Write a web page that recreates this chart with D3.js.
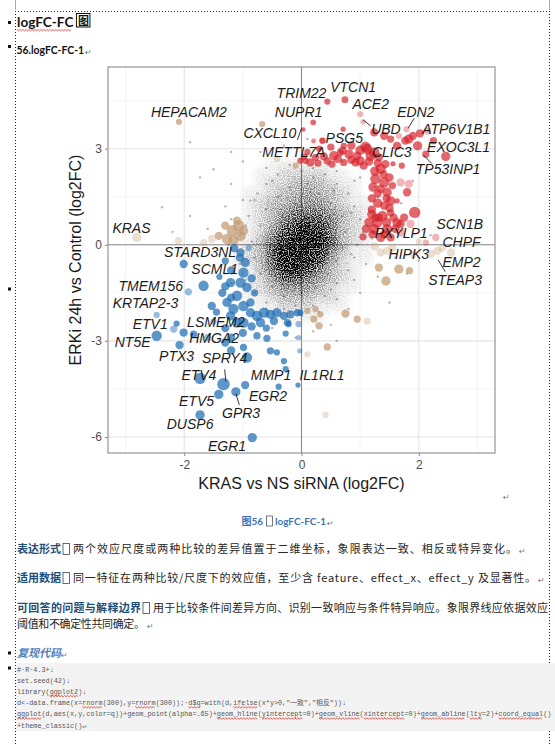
<!DOCTYPE html>
<html>
<head>
<meta charset="utf-8">
<script src="https://cdn.jsdelivr.net/npm/d3@7"></script>
<style>
  body { margin: 0; background: #fff; }
  svg { display: block; }
</style>
</head>
<body>
<svg id="page" width="555" height="745"></svg>
<script>
// ---- chart data ----
var xTicks = [-2, 0, 2];
var yTicks = [-6, -3, 0, 3];
var xMinor = [-3, -1, 1, 3];
var yMinor = [-4.5, -1.5, 1.5, 4.5];

// density of the unlabelled gene cloud, 0..9 per bin
var cloudBinsX = [-1.1, -0.9, -0.7, -0.5, -0.3, -0.1, 0.1, 0.3, 0.5, 0.7, 0.9, 1.1, 1.3];
var cloudBinsY = [2.55, 2.25, 1.95, 1.65, 1.35, 1.05, 0.75, 0.45, 0.15, -0.15, -0.45, -0.75, -1.05, -1.35, -1.65, -1.95, -2.25];
var cloudDensity = [
  [0, 0, 0, 1, 1, 1, 1, 1, 1, 0, 0, 0, 0],
  [0, 0, 1, 1, 2, 2, 2, 2, 1, 1, 0, 0, 0],
  [0, 0, 1, 2, 2, 3, 3, 3, 2, 1, 1, 0, 0],
  [0, 1, 1, 2, 3, 3, 4, 3, 3, 2, 1, 0, 0],
  [0, 1, 2, 3, 3, 4, 4, 4, 3, 2, 1, 1, 0],
  [0, 1, 2, 3, 4, 5, 5, 5, 4, 3, 2, 1, 0],
  [0, 1, 2, 3, 5, 6, 7, 6, 5, 3, 2, 1, 0],
  [1, 1, 2, 4, 6, 8, 9, 8, 5, 3, 2, 1, 0],
  [1, 1, 3, 5, 8, 9, 9, 9, 6, 3, 2, 1, 0],
  [1, 2, 3, 6, 9, 9, 9, 8, 5, 3, 1, 1, 0],
  [1, 2, 3, 6, 9, 9, 9, 7, 4, 2, 1, 1, 0],
  [1, 1, 3, 5, 8, 9, 7, 5, 3, 2, 1, 0, 0],
  [0, 1, 2, 4, 6, 6, 5, 4, 3, 2, 1, 0, 0],
  [0, 1, 2, 3, 4, 4, 4, 3, 2, 1, 1, 0, 0],
  [0, 1, 1, 2, 3, 3, 3, 2, 2, 1, 0, 0, 0],
  [0, 0, 1, 1, 2, 2, 2, 1, 1, 1, 0, 0, 0],
  [0, 0, 0, 1, 1, 1, 1, 1, 0, 0, 0, 0, 0]
];

// scattered unlabelled genes around the cloud [x, y]
var cloudPts = [
  [-0.9,0.9],[-0.8,1.4],[-0.6,1.9],[-0.4,2.2],[-0.2,2.5],[0.0,2.7],[0.2,2.4],[0.4,2.2],[0.6,1.9],[0.8,1.6],
  [0.9,1.2],[1.0,0.8],[1.05,0.4],[0.95,0.0],[0.9,-0.4],[0.8,-0.8],[0.6,-1.2],[0.4,-1.6],[0.2,-1.9],[0.0,-2.2],
  [-0.2,-2.4],[-0.4,-2.1],[-0.6,-1.8],[-0.8,-1.5],[-0.95,-1.1],[-1.05,-0.6],[-1.1,-0.2],[-1.05,0.3],
  [-1.3,1.2],[-1.5,2.36],[-1.73,2.1],[-2.38,1.17],[-0.87,1.38],[-1.9,3.2],[-1.2,1.9],[-1.0,2.6],[-0.7,2.9],
  [-0.3,3.1],[0.3,3.0],[0.7,2.6],[1.0,2.1],[1.3,1.5],[1.45,0.9],[1.5,0.3],[1.6,-0.4],[1.3,-1.0],[1.0,-1.5],
  [0.8,-2.0],[0.5,-2.5],[0.2,-2.7],[-0.1,-2.9],[-0.5,-2.6],[-0.75,-2.3],[-1.3,-0.9],[-1.4,-0.3],[-1.6,0.5],
  [-1.9,0.9],[-2.2,0.4],[1.8,-0.9],[2.0,-0.5],[2.2,0.3],[1.7,1.3],[1.9,2.0],[-0.5,3.4],[0.1,3.3],[-1.2,2.9],
  [2.4,-1.2],[1.5,-1.8],[0.6,-3.0],
  [-0.7,0.6],[-0.6,1.1],[-0.4,1.5],[-0.2,1.8],[0.1,1.9],[0.3,1.6],[0.5,1.3],[0.7,0.9],[0.75,0.4],[0.7,-0.1],
  [0.6,-0.5],[0.45,-0.9],[0.25,-1.3],[0.0,-1.5],[-0.3,-1.6],[-0.5,-1.3],[-0.7,-0.9],[-0.8,-0.4],[-0.85,0.1],
  [-0.5,2.0],[0.2,2.1],[0.55,1.7],[0.85,1.0],[0.85,-0.3],[0.5,-1.4],[-0.1,-1.9],[-0.6,-2.0],[-0.9,-1.9],
  [-1.0,-0.9],[-0.95,0.6],[-0.75,1.6],[0.0,2.3],[0.45,2.5],[0.9,2.0],[1.15,1.1],[1.2,0.2],[1.1,-0.6],
  [0.9,-1.1],[0.6,-1.7],[0.3,-2.1],[-0.3,-2.0],[-1.2,-1.2],[-1.25,0.0],[-1.2,0.8],[-1.0,1.4],[-0.6,2.4],
  [0.1,2.8],[0.6,2.3],[1.25,1.8]
];

// concordant up genes [x, y, score, confident]
var upPts = [
  [0.44,4.47,3,1],[0.74,4.53,3.3,1],[0.2,3.82,2.7,1],[0.03,3.6,2.2,1],[0.2,3.23,2,0],[0.36,3.25,3,1],
  [1.0,4.08,3,0],[1.05,3.84,2.5,0],[0.71,3.61,2.5,1],[1.24,3.51,4,1],[1.79,3.61,3,0],[2.02,3.48,4,1],
  [1.83,3.3,4.5,1],[1.98,3.09,4.5,1],[2.12,2.83,3.5,1],[2.46,2.76,4.5,1],[1.09,3.06,5,1],[1.56,2.53,2.5,1],
  [1.41,3.4,4,1],[1.52,3.3,3.5,1],[1.66,3.4,3,0],[1.63,3.09,4,1],[1.77,3.25,4,1],
  [0.07,2.62,3,1],[0.15,2.57,4,1],[0.24,2.73,3.5,1],[0.38,2.76,4,1],[0.55,2.78,4.5,1],[0.7,2.94,4,1],
  [0.81,2.83,4.5,1],[0.95,2.78,4,1],[0.52,2.52,3.5,1],[0.72,2.57,3.5,1],[0.92,2.57,4,1],[1.06,2.47,4,1],
  [1.12,2.99,5,1],[1.18,2.78,5,1],[0.72,3.09,3,1],[0.66,2.88,3.5,1],[0.44,2.62,3.5,1],[-0.02,2.62,3,1],
  [0.21,3.25,2.5,0],[0.35,3.25,3,0],
  [0.1,2.9,3,1],[0.3,3.0,3,1],[0.5,3.05,3.5,1],[0.85,3.1,4,1],[1.0,2.95,4.5,1],[0.28,2.55,3.5,1],
  [0.62,2.68,4,1],[0.85,2.65,4,1],[1.0,2.62,4.5,1],[1.15,2.6,4,1],[0.05,2.75,3,1],
  [1.24,2.88,5,1],[1.32,2.73,4,1],[1.35,2.37,5,1],[1.26,2.06,5,1],[1.41,1.95,5,1],[1.46,1.64,4.5,1],
  [1.52,1.37,4.5,1],[1.41,1.22,4,1],[1.38,0.9,5,1],[1.29,0.69,5,1],[1.24,0.49,5,1],[1.46,0.49,5,1],
  [1.63,0.69,4.5,1],[1.69,0.38,4,0],[1.35,0.23,4.5,1],[1.52,0.23,4,1],[1.21,0.33,4,1],[1.26,0.85,4,1],
  [1.57,0.85,4,1],[1.52,1.0,3.5,1],[1.69,1.95,4,0],[1.83,1.9,4,0],[1.8,1.64,4,1],[1.55,1.85,3.5,1],
  [1.63,1.37,2.5,1],[1.71,2.47,3,1],[1.43,2.52,4,1],[1.93,1.01,5.5,1],[1.86,0.65,4,0],[2.12,0.07,3,0],
  [2.29,0.23,3.5,0],[1.32,0.85,4,1],[1.69,0.65,4,1],[1.41,0.33,4,1],[1.3,1.6,4,1],[1.2,1.1,4,1],
  [1.15,0.7,4.5,1],[1.4,2.2,4,1],[1.3,2.55,4,1],
  [1.25,2.3,4.5,1],[1.5,2.1,4,1],[1.22,1.8,4.5,1],[1.35,1.75,4,1],[1.2,1.45,4,1],[1.45,1.45,4,1],
  [1.3,1.3,4.5,1],[1.5,1.15,4,1],[1.2,0.95,4.5,1],[1.45,0.7,4.5,1],[1.1,0.5,4,1],[1.6,0.5,4,1],
  [1.05,0.25,3.5,1],[1.75,0.85,4,1],[1.9,3.4,4,1],[2.25,3.25,3.5,1],[2.15,3.55,3.5,0]
];

// concordant down genes
var downPts = [
  [-2.01,-0.6,4,1],[-1.67,-1.28,5,1],[-1.93,-1.47,3.5,0],[-1.53,-1.91,4,1],[-2.18,-2.63,3.5,0],
  [-2.01,-2.74,4,1],[-2.47,-2.84,5,1],[-2.47,-2.19,3,0],[-2.13,-2.46,3,1],[-2.08,-3.13,4,1],[-1.84,-2.79,3.5,1],
  [-1.04,-0.24,4,1],[-0.96,-0.55,4.5,1],[-0.99,-0.87,5,1],[-1.21,-1.18,4.5,1],[-1.04,-1.18,5,1],
  [-0.93,-1.33,4.5,1],[-1.1,-1.59,5,1],[-1.27,-1.8,4.5,1],[-1.16,-2.0,5,1],[-0.99,-1.91,5,1],
  [-0.87,-1.8,4,1],[-1.21,-2.22,4.5,1],[-1.1,-2.43,5,1],[-0.99,-2.43,5,1],[-0.87,-2.12,4.5,1],
  [-1.15,-0.1,4,1],[-0.9,-0.1,3,0],[-1.3,-0.5,3.5,1],[-1.4,-1.0,3,1],[-1.35,-1.5,4,1],[-1.45,-2.1,3.5,1],
  [-1.3,-2.6,4,1],[-1.5,-2.4,3,0],[-1.6,-2.9,3.5,0],[-1.2,-2.9,4,1],[-1.0,-2.75,4,1],
  [-1.05,-0.4,4,1],[-1.2,-0.8,4,1],[-0.85,-1.05,4,1],[-1.3,-1.3,4,1],[-0.8,-1.5,3.5,1],[-1.2,-1.65,4,1],
  [-0.76,-2.22,5,1],[-0.64,-2.12,5,1],[-0.53,-2.17,4.5,1],[-0.42,-2.12,4.5,1],[-0.3,-2.22,4,1],
  [-0.19,-2.17,4,1],[-0.07,-2.12,3.5,1],[-0.7,-2.43,4.5,1],[-0.47,-2.38,4,1],[-0.24,-2.43,3.5,1],
  [-0.05,-2.48,3,0],[-0.85,-2.55,4,1],[-0.6,-2.6,3.5,1],
  [-0.76,-2.84,3.5,1],[-0.59,-2.92,3.5,1],[-0.53,-3.31,3.5,1],[-0.27,-2.77,3,1],[-0.22,-2.48,3,1],
  [-0.02,-2.12,3,1],[-0.05,-2.9,2.5,0],[-0.3,-3.63,3,1],[-0.27,-3.88,3,1],[-0.03,-3.31,2.5,0],
  [-0.93,-3.52,5,1],[-0.42,-3.36,3,1],[-1.73,-4.17,5.5,1],[-1.33,-4.35,6,1],[-0.96,-4.38,4,1],
  [-0.39,-4.43,3,1],[-0.06,-4.38,2.5,1],[-1.41,-4.67,4.5,1],[-1.12,-4.59,4.5,1],[-1.73,-5.31,4.5,1],
  [-0.84,-6.02,4.5,1],[-1.2,-3.3,4,1],[-1.3,-3.05,4,1],[-0.99,-3.2,3.5,1]
];

// discordant / single-comparison genes
var mixedPts = [
  [-2.09,3.84,3,1],[-0.67,3.77,3,1],[-0.1,2.47,3,1],[-0.42,2.68,3,0],
  [-1.18,0.44,5.5,1],[-1.07,0.59,5.5,1],[-1.04,0.28,5,1],[-1.27,0.18,5,1],[-1.16,0.13,5,1],
  [-1.41,0.28,4,1],[-1.53,0.18,4,0],[-0.99,0.44,4.5,1],[-1.1,0.75,4,1],[-1.3,0.6,4,1],
  [0.1,-2.06,3,1],[0.24,-2.01,3,1],[0.21,-2.32,3.5,1],[0.3,-2.53,3.5,1],[0.32,-2.17,3,1],
  [0.75,-2.15,4,1],[0.95,-2.32,3.5,1],[1.12,-2.38,3.5,0],[0.44,-3.19,3.5,1],[0.1,-3.42,3,0],[0.41,-5.31,3,0],
  [1.32,-0.71,4,1],[1.44,-1.13,4.5,1],[1.66,-0.76,4.5,1],[1.84,-0.81,3.5,1],
  [-2.81,0.23,4.5,0],[-2.1,0.13,3.5,0],[-1.67,0.07,3.5,0],[1.35,-0.24,4,0],[1.46,-0.19,4,0],
  [2.21,-0.29,4,0],[2.32,-0.19,4,0],[2.55,-0.24,4,0],[1.25,-0.05,4,0],[1.55,-0.1,4,0],
  [2.4,-0.1,3.5,0],[1.9,-0.3,3.5,0],[2.0,0.1,3,0]
];

// gene labels [name, x, y]
var geneLabels = [
  ["TRIM22", 0.0, 4.57], ["VTCN1", 0.88, 4.78], ["HEPACAM2", -1.92, 4.0], ["NUPR1", -0.05, 4.0],
  ["ACE2", 1.18, 4.23], ["EDN2", 1.95, 4.0], ["CXCL10", -0.54, 3.33], ["UBD", 1.44, 3.46],
  ["ATP6V1B1", 2.64, 3.46], ["PSG5", 0.73, 3.17], ["METTL7A", -0.13, 2.75], ["CLIC3", 1.54, 2.73],
  ["EXOC3L1", 2.68, 2.91], ["TP53INP1", 2.5, 2.2], ["KRAS", -2.9, 0.38], ["SCN1B", 2.7, 0.49],
  ["PXYLP1", 1.7, 0.22], ["CHPF", 2.73, -0.06], ["STARD3NL", -1.73, -0.37], ["HIPK3", 1.83, -0.45],
  ["EMP2", 2.73, -0.68], ["SCML1", -1.48, -0.91], ["STEAP3", 2.62, -1.26], ["TMEM156", -2.57, -1.43],
  ["KRTAP2-3", -2.66, -1.98], ["ETV1", -2.58, -2.64], ["LSMEM2", -1.46, -2.56], ["NT5E", -2.88, -3.18],
  ["HMGA2", -1.49, -3.08], ["PTX3", -2.13, -3.63], ["SPRY4", -1.31, -3.7], ["ETV4", -1.75, -4.22],
  ["MMP1", -0.52, -4.22], ["IL1RL1", 0.35, -4.22], ["EGR2", -0.57, -4.87], ["ETV5", -1.79, -5.03],
  ["GPR3", -1.03, -5.4], ["DUSP6", -1.9, -5.76], ["EGR1", -1.27, -6.43]
];

// label leader segments [x1, y1, x2, y2]
var leaders = [
  [0.0, 3.64, -0.07, 3.27], [1.05, 3.9, 1.18, 3.71], [1.92, 3.95, 1.82, 3.64],
  [2.08, 2.8, 2.22, 2.54], [-1.31, -3.89, -1.29, -4.27], [-1.12, -4.64, -1.06, -5.0],
  [2.33, -0.47, 2.45, -0.84]
];

// ---- document text ----
var paragraphs = [
  { lead: "表达形式", body: "两个效应尺度或两种比较的差异值置于二维坐标，象限表达一致、相反或特异变化。" },
  { lead: "适用数据", body: "同一特征在两种比较/尺度下的效应值，至少含 feature、effect_x、effect_y 及显著性。" },
  { lead: "可回答的问题与解释边界", body: "用于比较条件间差异方向、识别一致响应与条件特异响应。象限界线应依据效应" }
];
var paraTail = "阈值和不确定性共同确定。";
var codeLines = [
  "#·R·4.3+↓",
  "set.seed(42)↓",
  "library(ggplot2)↓",
  "d<-data.frame(x=rnorm(300),y=rnorm(300));·d$q=with(d,ifelse(x*y>0,\"一致\",\"相反\"))↓",
  "ggplot(d,aes(x,y,color=q))+geom_point(alpha=.65)+geom_hline(yintercept=0)+geom_vline(xintercept=0)+geom_abline(lty=2)+coord_equal()",
  "+theme_classic()↵"
];
var codeFlags = [
  [], [], ["ggplot2"], ["rnorm", "rnorm(300))", "d$q", "ifelse"],
  ["ggplot", "geom_hline", "yintercept", "geom_vline", "xintercept", "geom_abline", "lty", "coord_equal"],
  []
];

var svg = d3.select("#page");
var CJK = "'Noto Sans CJK SC', sans-serif";
var LAT = "Lato, 'Noto Sans CJK SC', sans-serif";

// ---- page furniture ----
var frame = svg.append("g").attr("stroke", "#222").attr("stroke-width", 1).attr("stroke-dasharray", "1,2");
frame.append("line").attr("x1", 15.5).attr("x2", 15.5).attr("y1", 11).attr("y2", 745);
frame.append("line").attr("x1", 549.5).attr("x2", 549.5).attr("y1", 11).attr("y2", 745);
frame.append("line").attr("x1", 15).attr("x2", 550).attr("y1", 11.5).attr("y2", 11.5);
svg.append("line").attr("x1", 15.5).attr("x2", 15.5).attr("y1", 0).attr("y2", 10).attr("stroke", "#aaa");
svg.append("line").attr("x1", 549.5).attr("x2", 549.5).attr("y1", 0).attr("y2", 10).attr("stroke", "#aaa");

[22.5, 46.5, 289, 653, 668].forEach(function (by) {
  svg.append("rect").attr("x", 8).attr("y", by - 1.5).attr("width", 3).attr("height", 3).attr("fill", "#111");
});

function wavy(x1, x2, yy) {
  var p = "M" + x1 + "," + yy;
  var k = 0;
  for (var xx = x1 + 1.5; xx <= x2; xx += 1.5) {
    p += " L" + xx + "," + (yy + (k % 2 ? 0 : 1.4));
    k++;
  }
  svg.append("path").attr("d", p).attr("fill", "none").attr("stroke", "#e0302a").attr("stroke-width", 0.8);
}

// heading: one text element so the tofu-boxed 图 follows the Latin part
var head = svg.append("text").attr("x", 17).attr("y", 27).attr("fill", "#111").attr("font-weight", 700);
head.append("tspan").attr("font-family", LAT).attr("font-size", 13.6).text("logFC-FC");
head.append("tspan").attr("font-family", CJK).attr("font-size", 11).attr("dx", 4.5).attr("dy", -2).text("图");
var hz = head.node().getStartPositionOfChar(8).x;
svg.append("rect").attr("x", hz - 1.5).attr("y", 13.5).attr("width", 13.5).attr("height", 13.5)
  .attr("fill", "none").attr("stroke", "#111").attr("stroke-width", 1);
wavy(17, 72, 29.5);

var sub = svg.append("text").attr("x", 16.5).attr("y", 54).attr("fill", "#111");
sub.append("tspan").attr("font-family", LAT).attr("font-weight", 700).attr("font-size", 10.4).text("56.logFC-FC-1");
sub.append("tspan").attr("font-family", "'DejaVu Sans'").attr("font-size", 8).attr("fill", "#777")
  .attr("dx", 1).attr("dy", 1).text("↵");

function para(xp, yp) {
  svg.append("text").attr("x", xp).attr("y", yp).attr("font-family", "'DejaVu Sans'")
    .attr("font-size", 8).attr("fill", "#777").text("↵");
}

// ---- chart ----
var x = d3.scaleLinear().domain([-3.3, 3.3]).range([108, 495]);
var y = d3.scaleLinear().domain([-6.5, 5.55]).range([453, 67]);
var rScale = d3.scaleLinear().domain([2, 6]).range([2.1, 6.2]);
var densAlpha = d3.scalePow().exponent(1.3).domain([0, 9]).range([0, 1]);

var chart = svg.append("g");
var grid = chart.append("g").attr("fill", "none");
grid.selectAll(".vmin").data(xMinor).enter().append("line")
  .attr("x1", d => x(d)).attr("x2", d => x(d)).attr("y1", y.range()[0]).attr("y2", y.range()[1])
  .attr("stroke", "#f2f2f2").attr("stroke-width", 0.8);
grid.selectAll(".hmin").data(yMinor).enter().append("line")
  .attr("y1", d => y(d)).attr("y2", d => y(d)).attr("x1", x.range()[0]).attr("x2", x.range()[1])
  .attr("stroke", "#f2f2f2").attr("stroke-width", 0.8);
grid.selectAll(".vmaj").data(xTicks).enter().append("line")
  .attr("x1", d => x(d)).attr("x2", d => x(d)).attr("y1", y.range()[0]).attr("y2", y.range()[1])
  .attr("stroke", "#e4e4e4").attr("stroke-width", 1.1);
grid.selectAll(".hmaj").data(yTicks).enter().append("line")
  .attr("y1", d => y(d)).attr("y2", d => y(d)).attr("x1", x.range()[0]).attr("x2", x.range()[1])
  .attr("stroke", "#e4e4e4").attr("stroke-width", 1.1);

// zero reference lines
chart.append("line").attr("x1", x(0)).attr("x2", x(0)).attr("y1", y.range()[0]).attr("y2", y.range()[1])
  .attr("stroke", "#8c8c8c").attr("stroke-width", 1.1);
chart.append("line").attr("y1", y(0)).attr("y2", y(0)).attr("x1", x.range()[0]).attr("x2", x.range()[1])
  .attr("stroke", "#8c8c8c").attr("stroke-width", 1.1);

// cloud density, softened and given a point-like grain
var defs = svg.append("defs");
var f = defs.append("filter").attr("id", "soft").attr("x", "-20%").attr("y", "-20%")
  .attr("width", "140%").attr("height", "140%");
f.append("feGaussianBlur").attr("in", "SourceGraphic").attr("stdDeviation", 3).attr("result", "b");
f.append("feTurbulence").attr("type", "fractalNoise").attr("baseFrequency", 0.85)
  .attr("numOctaves", 1).attr("seed", 7).attr("result", "n");
f.append("feColorMatrix").attr("in", "n").attr("type", "matrix")
  .attr("values", "0 0 0 0 0  0 0 0 0 0  0 0 0 0 0  0 0 0 3.2 -1.1").attr("result", "nc");
f.append("feComposite").attr("in", "b").attr("in2", "nc").attr("operator", "arithmetic")
  .attr("k1", 1.4).attr("k2", 0.25).attr("k3", 0).attr("k4", 0);

var cells = [];
cloudDensity.forEach(function (row, i) {
  row.forEach(function (v, j) { if (v > 0) cells.push({ cx: cloudBinsX[j], cy: cloudBinsY[i], v: v }); });
});
chart.append("g").attr("filter", "url(#soft)").selectAll("rect").data(cells).enter().append("rect")
  .attr("x", d => x(d.cx - 0.1)).attr("y", d => y(d.cy + 0.15))
  .attr("width", d => x(d.cx + 0.1) - x(d.cx - 0.1) + 0.5)
  .attr("height", d => y(d.cy - 0.15) - y(d.cy + 0.15) + 0.5)
  .attr("fill", "#000").attr("opacity", d => densAlpha(d.v));
chart.append("g").selectAll("circle").data(cloudPts).enter().append("circle")
  .attr("cx", d => x(d[0])).attr("cy", d => y(d[1])).attr("r", 1.2)
  .attr("fill", "#000").attr("opacity", 0.28);

function drawGroup(data, colour, hi, lo) {
  chart.append("g").selectAll("circle").data(data).enter().append("circle")
    .attr("cx", d => x(d[0])).attr("cy", d => y(d[1])).attr("r", d => rScale(d[2]))
    .attr("fill", colour).attr("fill-opacity", d => d[3] ? hi : lo);
}
drawGroup(mixedPts, "#c49a72", 0.72, 0.32);
drawGroup(downPts, "#1f6db3", 0.72, 0.45);
drawGroup(upPts, "#d61f26", 0.68, 0.33);

// panel border
chart.append("rect").attr("x", x.range()[0]).attr("y", y.range()[1])
  .attr("width", x.range()[1] - x.range()[0]).attr("height", y.range()[0] - y.range()[1])
  .attr("fill", "none").attr("stroke", "#8a8a8a").attr("stroke-width", 1.1);

// leaders and labels
chart.append("g").selectAll("line").data(leaders).enter().append("line")
  .attr("x1", d => x(d[0])).attr("y1", d => y(d[1])).attr("x2", d => x(d[2])).attr("y2", d => y(d[3]))
  .attr("stroke", "#222").attr("stroke-width", 0.9);
chart.append("g").selectAll("text").data(geneLabels).enter().append("text")
  .attr("x", d => x(d[1])).attr("y", d => y(d[2]))
  .attr("text-anchor", "middle").attr("font-family", "'Liberation Sans', Arial, sans-serif")
  .attr("font-style", "italic").attr("font-size", 14).attr("fill", "#1c1c1c")
  .text(d => d[0]);

// axes
var axL = chart.append("g").attr("transform", "translate(" + x.range()[0] + ",0)")
  .call(d3.axisLeft(y).tickValues(yTicks).tickSize(3).tickPadding(3).tickFormat(d3.format("d")));
var axB = chart.append("g").attr("transform", "translate(0," + y.range()[0] + ")")
  .call(d3.axisBottom(x).tickValues(xTicks).tickSize(3).tickPadding(4).tickFormat(d3.format("d")));
[axL, axB].forEach(function (ax) {
  ax.select(".domain").remove();
  ax.selectAll("line").attr("stroke", "#8a8a8a");
  ax.selectAll("text").attr("font-family", "'Liberation Sans', Arial, sans-serif")
    .attr("font-size", 12).attr("fill", "#4d4d4d").text(function (d) { return String(d).replace("−", "-"); });
});
chart.append("text").attr("x", (x.range()[0] + x.range()[1]) / 2).attr("y", 489)
  .attr("text-anchor", "middle").attr("font-family", "'Liberation Sans', Arial, sans-serif")
  .attr("font-size", 16).attr("fill", "#1a1a1a").text("KRAS vs NS siRNA (log2FC)");
chart.append("text").attr("transform", "translate(81," + ((y.range()[0] + y.range()[1]) / 2) + ") rotate(-90)")
  .attr("text-anchor", "middle").attr("font-family", "'Liberation Sans', Arial, sans-serif")
  .attr("font-size", 16).attr("fill", "#1a1a1a").text("ERKi 24h vs Control (log2FC)");
para(503, 500);

// ---- caption ----
var cap = svg.append("g").attr("fill", "#3f72b5").attr("font-weight", 700).attr("font-size", 10);
cap.append("text").attr("x", 241.5).attr("y", 525).attr("font-family", CJK).text("图");
cap.append("text").attr("x", 251.5).attr("y", 525).attr("font-family", LAT).text("56");
cap.append("rect").attr("x", 266.5).attr("y", 516).attr("width", 6).attr("height", 10)
  .attr("fill", "none").attr("stroke", "#555").attr("stroke-width", 0.8);
cap.append("text").attr("x", 275).attr("y", 525).attr("font-family", LAT)
  .attr("textLength", 51).attr("lengthAdjust", "spacingAndGlyphs").text("logFC-FC-1");
para(327, 526);

// ---- paragraphs ----
var paraY = [553, 582, 612];
var leadW = [44, 44, 124];
var bodyEnd = [517, 536, 548];
paragraphs.forEach(function (p, i) {
  svg.append("text").attr("x", 17).attr("y", paraY[i]).attr("font-family", CJK).attr("font-weight", 700)
    .attr("font-size", 11).attr("fill", "#1f4e79").attr("textLength", leadW[i]).attr("lengthAdjust", "spacing")
    .text(p.lead);
  var bx = 17 + leadW[i] + 2;
  svg.append("rect").attr("x", bx).attr("y", paraY[i] - 9.5).attr("width", 6.5).attr("height", 11)
    .attr("fill", "none").attr("stroke", "#444").attr("stroke-width", 0.8);
  svg.append("text").attr("x", bx + 10).attr("y", paraY[i]).attr("font-family", CJK)
    .attr("font-size", 11).attr("fill", "#262626").attr("textLength", bodyEnd[i] - bx - 10)
    .attr("lengthAdjust", "spacing").text(p.body);
  if (i < 2) para(bodyEnd[i] + 2, paraY[i] + 1);
});
svg.append("text").attr("x", 17).attr("y", 628).attr("font-family", CJK).attr("font-size", 11)
  .attr("fill", "#262626").attr("textLength", 128).attr("lengthAdjust", "spacing").text(paraTail);
para(147, 629);

// ---- code section ----
svg.append("text").attr("x", 17).attr("y", 657).attr("font-family", CJK).attr("font-weight", 700)
  .attr("font-style", "italic").attr("font-size", 11).attr("fill", "#4f81bd").text("复现代码");
para(61, 658);
svg.append("rect").attr("x", 16).attr("y", 663).attr("width", 539).attr("height", 68).attr("fill", "#f3f3f3");
var MONO = "'Liberation Mono', 'DejaVu Sans Mono', 'Noto Sans CJK SC', monospace";
var probe = svg.append("text").attr("font-family", MONO).attr("font-size", 6.8).text("0000000000");
var charW = probe.node().getComputedTextLength() / 10;
probe.remove();
codeLines.forEach(function (line, i) {
  var by = 671.5 + i * 11.2;
  svg.append("text").attr("x", 17).attr("y", by).attr("font-family", MONO).attr("font-size", 6.8)
    .attr("fill", "#555").style("white-space", "pre").text(line);
  var from = 0;
  codeFlags[i].forEach(function (w) {
    var idx = line.indexOf(w, from);
    if (idx < 0) return;
    from = idx + w.length;
    var word = w.replace(/\(.*$/, "");
    wavy(17 + idx * charW, 17 + (idx + word.length) * charW, by + 1.5);
  });
});
</script>
</body>
</html>
